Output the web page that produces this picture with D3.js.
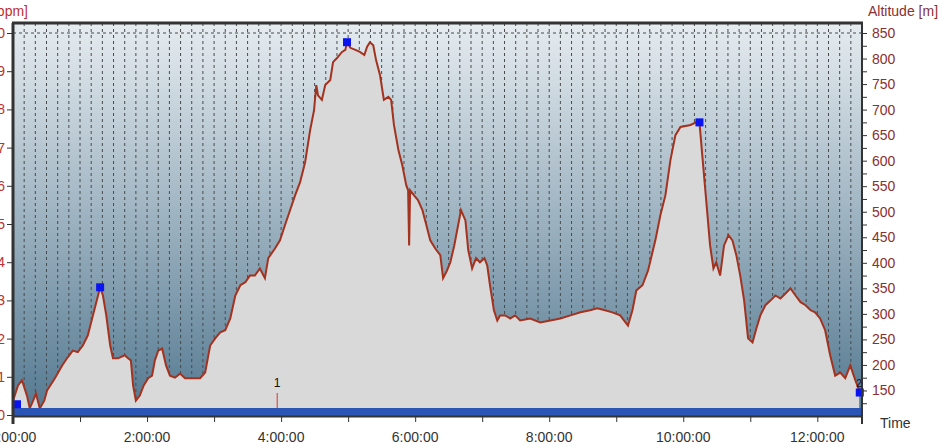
<!DOCTYPE html>
<meta charset="utf-8">
<html>
<head>
  <script src="https://d3js.org/d3.v7.min.js"></script>
  <style>
    body { margin: 0; background-color: #ffffff; font-family: "Liberation Sans", Arial, sans-serif; }
    svg { display: block; }
    .lbl { font-size: 14px; }
  </style>
</head>
<body>
  <svg width="943" height="448"></svg>

  <script>
    // elapsed time in minutes and altitude in metres
    const timeMin = [0, 4.5, 8, 12.5, 15, 18, 20.5, 24, 28, 30.5, 37.5, 44, 49, 53.5, 58, 62.5, 67, 71.5, 75, 78,
      80.5, 83.5, 87, 89.5, 94, 100, 103, 105.5, 107.5, 110, 113.5, 117, 121, 124.5, 127, 130, 133.5, 137, 140.5, 145,
      149.5, 154, 160, 167.5, 172, 176.5, 181, 185.5, 190, 194.5, 199, 203.5, 208, 212, 216.5, 221, 225.5, 228.5, 234.5, 239,
      243.5, 248, 252.5, 257, 261.5, 266, 269.5, 271.5, 273, 276.5, 279.5, 284, 286.5, 290, 294.5, 297.5, 299, 302, 306.5, 310.5,
      314.5, 317, 319.5, 322.5, 325, 328.5, 332, 336, 338.5, 341, 345, 348.5, 352, 353.7, 354.6, 355.5, 359, 362.5, 366.5, 370,
      373.5, 378, 382.5, 385, 388.5, 391.5, 395, 398.5, 401, 405, 407.5, 411, 414.5, 418, 422, 424.5, 427, 430.5, 433.5, 436,
      440.5, 445, 449.5, 454, 463, 472, 481, 490, 499, 508, 516.5, 523, 530, 536.5, 543.5, 550.5, 554.5, 558, 563.5, 568.5,
      575, 579.5, 584, 588.5, 593, 597.5, 606.5, 611.5, 614.5, 617, 620.5, 624, 627, 629.5, 633, 636.5, 640.5, 644, 647.5, 651,
      654.5, 658, 662, 665.5, 669, 673.5, 678, 682.5, 687, 691.5, 696, 700.5, 705, 709.5, 714, 718, 722.5, 727, 731.5, 736,
      740.5, 745, 749.5, 754, 757.5];
    const altitude = [130, 160, 170, 140, 115, 130, 144, 115, 130, 150, 174, 199, 215, 228, 225, 238, 258, 297, 326, 352,
      336, 297, 238, 213, 213, 219, 213, 209, 160, 130, 140, 160, 174, 179, 209, 228, 232, 199, 179, 175,
      183, 174, 174, 174, 185, 238, 252, 264, 268, 291, 336, 356, 362, 375, 375, 389, 370, 409, 428, 444,
      474, 503, 532, 558, 597, 660, 699, 748, 728, 719, 748, 758, 793, 801, 813, 817, 832, 821, 817, 813,
      807, 823, 832, 826, 797, 768, 719, 725, 719, 670, 621, 591, 552, 542, 434, 542, 532, 523, 503, 474,
      444, 428, 415, 370, 385, 401, 434, 474, 503, 483, 425, 389, 409, 401, 409, 395, 356, 307, 287, 297,
      297, 291, 297, 287, 291, 283, 287, 291, 297, 303, 307, 311, 307, 303, 297, 277, 307, 346, 356, 385,
      444, 493, 532, 601, 650, 666, 670, 675, 675, 611, 523, 434, 389, 401, 375, 434, 454, 444, 415, 375,
      326, 252, 244, 272, 297, 317, 326, 336, 330, 340, 350, 336, 323, 317, 307, 303, 291, 268, 219, 179,
      185, 174, 199, 170, 150];

    const markerTime = [2.5, 78, 299, 614.5, 758];
    const markerAlt = [123, 352, 832, 675, 146];
    const lapTime = [236.5, 760];
    const lapName = ["1", "2"];

    const altTicks = [150, 200, 250, 300, 350, 400, 450, 500, 550, 600, 650, 700, 750, 800, 850];
    const hrTicks = [0, 1, 2, 3, 4, 5, 6, 7, 8, 9, 10];
    const hourTicks = [0, 60, 120, 180, 240, 300, 360, 420, 480, 540, 600, 660, 720];
    const timeLabels = ["0:00:00", "2:00:00", "4:00:00", "6:00:00", "8:00:00", "10:00:00", "12:00:00"];

    const plot = {left: 13, right: 862, top: 23, bottom: 416};

    const svg = d3.select("svg");

    const x = d3.scaleLinear().domain([0, 760]).range([plot.left, plot.right]);
    const yAlt = d3.scaleLinear().domain([100, 850]).range([plot.bottom, 33]);
    const yHr = d3.scaleLinear().domain([0, 10]).range([415, 33]);

    const defs = svg.append("defs");
    const grad = defs.append("linearGradient")
        .attr("id", "bg").attr("x1", 0).attr("y1", 0).attr("x2", 0).attr("y2", 1);
    grad.append("stop").attr("offset", "0%").attr("stop-color", "#e6ecf0");
    grad.append("stop").attr("offset", "100%").attr("stop-color", "#537890");
    defs.append("clipPath").attr("id", "clip")
      .append("rect")
        .attr("x", plot.left).attr("y", plot.top)
        .attr("width", plot.right - plot.left).attr("height", plot.bottom - plot.top);

    svg.append("rect")
        .attr("x", plot.left).attr("y", plot.top)
        .attr("width", plot.right - plot.left).attr("height", plot.bottom - plot.top)
        .attr("fill", "url(#bg)");

    const g = svg.append("g").attr("clip-path", "url(#clip)");

    // dashed grid every 10 minutes
    g.selectAll(".vgrid")
      .data(d3.range(10, 760, 10))
      .enter().append("line")
        .attr("x1", d => x(d)).attr("x2", d => x(d))
        .attr("y1", plot.top).attr("y2", plot.bottom)
        .attr("stroke", "#4a4a4a")
        .attr("stroke-width", 1)
        .attr("stroke-dasharray", "3,3");
    g.append("line")
        .attr("x1", plot.left).attr("x2", plot.right)
        .attr("y1", yAlt(850)).attr("y2", yAlt(850))
        .attr("stroke", "#4a4a4a")
        .attr("stroke-dasharray", "3,3");

    const profile = timeMin.map((t, i) => [t, altitude[i]]);

    const area = d3.area()
        .x(d => x(d[0]))
        .y0(plot.bottom)
        .y1(d => yAlt(d[1]));
    const line = d3.line()
        .x(d => x(d[0]))
        .y(d => yAlt(d[1]));

    g.append("path")
        .datum(profile)
        .attr("d", area)
        .attr("fill", "#d9d9d9");
    g.append("path")
        .datum(profile)
        .attr("d", line)
        .attr("fill", "none")
        .attr("stroke", "#a3321f")
        .attr("stroke-width", 2);

    // blue band along the bottom
    g.append("rect")
        .attr("x", plot.left).attr("y", 408)
        .attr("width", plot.right - plot.left).attr("height", 8)
        .attr("fill", "#2a55b5");

    // lap markers
    lapTime.forEach((t, i) => {
      g.append("line")
          .attr("x1", x(t)).attr("x2", x(t))
          .attr("y1", 393).attr("y2", 408)
          .attr("stroke", "#e03030");
      svg.append("text")
          .attr("x", x(t) - (i == lapTime.length - 1 ? 3 : 0))
          .attr("y", 387)
          .attr("text-anchor", "middle")
          .style("font-size", i == lapTime.length - 1 ? "10px" : "12px")
          .attr("fill", "#111")
          .text(lapName[i]);
    });

    // blue min/max markers
    markerTime.forEach((t, i) => {
      svg.append("rect")
          .attr("x", Math.max(plot.left, x(t) - 4))
          .attr("y", yAlt(markerAlt[i]) - 4)
          .attr("width", 8).attr("height", 8)
          .attr("fill", "#0a14f0");
    });

    // frame
    svg.append("line")
        .attr("x1", plot.left - 1).attr("x2", plot.right + 1)
        .attr("y1", plot.top).attr("y2", plot.top)
        .attr("stroke", "#333").attr("stroke-width", 3);

    // right axis (altitude)
    svg.append("g")
        .attr("transform", `translate(${plot.right},0)`)
        .call(d3.axisRight(yAlt).tickValues(d3.range(125, 870, 25)).tickSize(5).tickFormat(""))
        .call(a => a.select(".domain").remove())
        .call(a => a.selectAll("line").attr("stroke", "#333"));
    svg.append("line")
        .attr("x1", plot.right).attr("x2", plot.right)
        .attr("y1", plot.top).attr("y2", plot.bottom + 8)
        .attr("stroke", "#333").attr("stroke-width", 2);
    svg.selectAll(".altlbl")
      .data(altTicks)
      .enter().append("text")
        .attr("class", "lbl")
        .attr("x", 872)
        .attr("y", d => yAlt(d) + 5)
        .attr("fill", "#8a3030")
        .text(d => d);
    svg.append("text")
        .attr("class", "lbl")
        .attr("x", 868).attr("y", 16)
        .attr("fill", "#8a3030")
        .text("Altitude [m]");

    // left axis (heart rate)
    svg.append("g")
        .attr("transform", `translate(${plot.left},0)`)
        .call(d3.axisLeft(yHr).tickValues(hrTicks).tickSize(6).tickFormat(""))
        .call(a => a.select(".domain").remove())
        .call(a => a.selectAll("line").attr("stroke", "#333"));
    svg.append("line")
        .attr("x1", plot.left).attr("x2", plot.left)
        .attr("y1", plot.top).attr("y2", plot.bottom + 8)
        .attr("stroke", "#333").attr("stroke-width", 3);
    svg.selectAll(".hrlbl")
      .data(hrTicks)
      .enter().append("text")
        .attr("class", "lbl")
        .attr("x", 5)
        .attr("y", d => yHr(d) + 5)
        .attr("text-anchor", "end")
        .attr("fill", "#c03030")
        .text(d => d);
    svg.append("text")
        .attr("class", "lbl")
        .attr("x", 28).attr("y", 16)
        .attr("text-anchor", "end")
        .attr("fill", "#c03030")
        .text("Heart rate [bpm]");

    // bottom axis (time)
    svg.append("line")
        .attr("x1", plot.left - 1).attr("x2", plot.right + 1)
        .attr("y1", plot.bottom + 0.5).attr("y2", plot.bottom + 0.5)
        .attr("stroke", "#333").attr("stroke-width", 2);
    svg.append("g")
        .attr("transform", `translate(0,${plot.bottom})`)
        .call(d3.axisBottom(x).tickValues(hourTicks).tickSize(6).tickFormat(""))
        .call(a => a.select(".domain").remove())
        .call(a => a.selectAll("line").attr("stroke", "#333"));
    svg.selectAll(".tlbl")
      .data(timeLabels)
      .enter().append("text")
        .attr("class", "lbl")
        .attr("x", (d, i) => x(i * 120))
        .attr("y", 442)
        .attr("text-anchor", "middle")
        .attr("fill", "#333")
        .text(d => d);
    svg.append("text")
        .attr("class", "lbl")
        .attr("x", 880).attr("y", 428)
        .attr("fill", "#333")
        .text("Time");
  </script>
</body>
</html>
